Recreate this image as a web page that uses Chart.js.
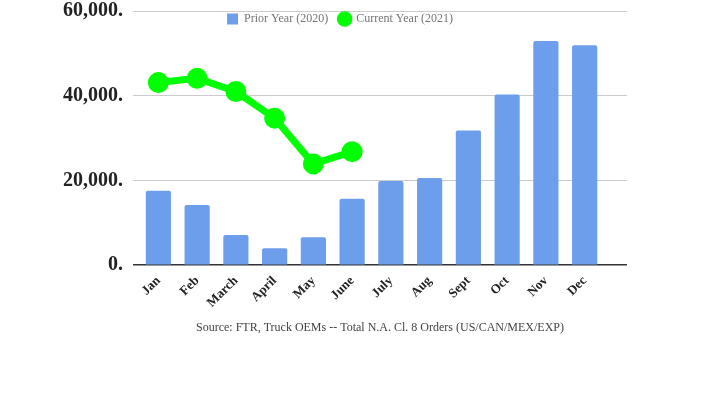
<!DOCTYPE html>
<html>
<head>
<meta charset="utf-8">
<script src="https://cdn.jsdelivr.net/npm/chart.js@4"></script>
<style>
  html, body { margin: 0; padding: 0; background: #fff; }
  #wrap { width: 711px; height: 399px; }
</style>
</head>
<body>
<div id="wrap"><canvas id="orders" width="711" height="399"></canvas></div>
<script>
let months = ["Jan", "Feb", "March", "April", "May", "June", "July", "Aug", "Sept", "Oct", "Nov", "Dec"];
let prior2020 = [17600, 14200, 7100, 4000, 6600, 15700, 19900, 20600, 31800, 40300, 52900, 51900];
let current2021 = [43100, 44100, 41000, 34700, 23900, 26800];
let yTicks = [0, 20000, 40000, 60000];

let serif = "'Liberation Serif', 'Times New Roman', serif";

// legend sits inside the plot, so it should not take any layout space
let floatLegend = {
  id: "floatLegend",
  afterInit(chart) {
    let lg = chart.legend;
    let fit = lg.fit;
    lg.fit = function () {
      fit.call(this);
      this.height = 0;
    };
  },
  afterLayout(chart) {
    // give the legend its box back so it isn't clipped away
    let lg = chart.legend;
    lg.top = 2;
    lg.bottom = 36;
    lg.height = 34;
    // categories are a bit inset from the gridlines, like the original
    let x = chart.scales.x;
    x._startPixel = x.left + 6;
    x._endPixel = x.right - 23;
    x._length = x._endPixel - x._startPixel;
  }
};

let chart = new Chart(document.getElementById("orders"), {
  type: "bar",
  data: {
    labels: months,
    datasets: [{
      label: "Prior Year (2020)",
      data: prior2020,
      backgroundColor: "#6d9eeb",
      borderRadius: 2,
      barPercentage: 0.65,
      categoryPercentage: 1,
      pointStyle: "rect",
      order: 1
    }, {
      type: "line",
      label: "Current Year (2021)",
      data: current2021,
      borderColor: "#00ff00",
      backgroundColor: "#00ff00",
      borderWidth: 7,
      pointRadius: 7,
      pointHoverRadius: 7,
      pointStyle: "circle",
      tension: 0,
      order: 0
    }]
  },
  plugins: [floatLegend],
  options: {
    responsive: false,
    animation: false,
    layout: { autoPadding: false, padding: { left: 53, right: 84, top: 11, bottom: 60 } },
    plugins: {
      legend: {
        position: "top",
        labels: {
          usePointStyle: true,
          boxWidth: 11,
          boxHeight: 11,
          padding: 11,
          color: "#757575",
          font: { family: serif, size: 12 },
          sort: (a, b) => a.datasetIndex - b.datasetIndex,
          generateLabels: c => {
            let items = Chart.defaults.plugins.legend.labels.generateLabels(c);
            items.forEach(it => { it.lineWidth = 0; });
            return items;
          }
        }
      },
      tooltip: { enabled: false }
    },
    scales: {
      x: {
        grid: { display: false },
        border: { display: false },
        ticks: {
          minRotation: 45,
          maxRotation: 45,
          padding: 0,
          color: "#222",
          font: { family: serif, size: 13, weight: "bold" }
        },
        title: {
          display: true,
          text: "Source: FTR, Truck OEMs -- Total N.A. Cl. 8 Orders (US/CAN/MEX/EXP)",
          color: "#444",
          font: { family: serif, size: 12 },
          padding: { top: 10 }
        }
      },
      y: {
        min: 0,
        max: 60000,
        afterBuildTicks: axis => { axis.ticks = yTicks.map(v => ({ value: v })); },
        afterFit: axis => { axis.paddingTop = 0; },
        border: { display: false },
        grid: {
          color: ctx => ctx.tick && ctx.tick.value === 0 ? "#333" : "#ccc",
          lineWidth: ctx => ctx.tick && ctx.tick.value === 0 ? 1.5 : 1,
          drawTicks: false
        },
        ticks: {
          padding: 10,
          color: "#222",
          font: { family: serif, size: 20, weight: "bold" },
          callback: v => v.toLocaleString("en-US") + "."
        }
      }
    }
  }
});
</script>
</body>
</html>
